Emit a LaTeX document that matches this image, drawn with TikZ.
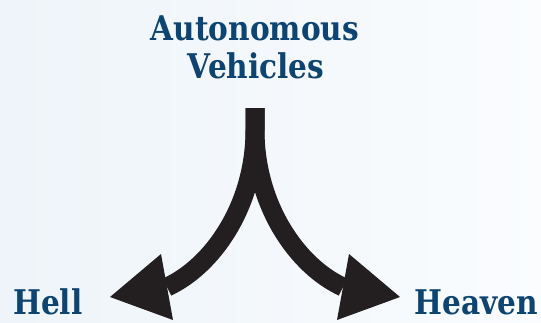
\documentclass[tikz,border=0pt]{standalone}
\usepackage{fontspec}
\setmainfont[FakeStretch=0.87]{DejaVu Serif}
\definecolor{navy}{HTML}{0D4471}
\definecolor{ink}{HTML}{231F20}
\definecolor{bgl}{HTML}{EEF4F9}
\definecolor{bgr}{HTML}{FAFCFE}
\begin{document}
\begin{tikzpicture}[x=1pt,y=-1pt,
  label/.style={font=\bfseries\fontsize{34}{38}\selectfont, text=navy, inner sep=0pt},
  shaft/.style={draw=ink, line width=19pt, line cap=butt},
  head/.style={fill=ink}]
\shade[left color=bgl, right color=bgr] (0,0) rectangle (541,322);
\useasboundingbox (0,0) rectangle (541,322);
\node[label, anchor=base] (t1) at (255,40) {Autonomous};
\node[label, anchor=base] (t2) at (256,78) {Vehicles};
\node[label, anchor=base west] (hell) at (13,314) {Hell};
\node[label, anchor=base east] (heaven) at (538,314) {Heaven};
\coordinate (top) at (255,108);
\coordinate (bend) at (255,130);
\coordinate (lend) at (167,287);
\coordinate (rend) at (343,287);
\draw[shaft] (top) -- (bend) .. controls (255,205) and (213,266) .. (lend);
\draw[shaft] (top) -- (bend) .. controls (255,205) and (297,266) .. (rend);
\fill[head] (110,297) -- (161,254) -- (173,320) -- cycle;
\fill[head] (400,297) -- (349,254) -- (337,320) -- cycle;
\end{tikzpicture}
\end{document}
